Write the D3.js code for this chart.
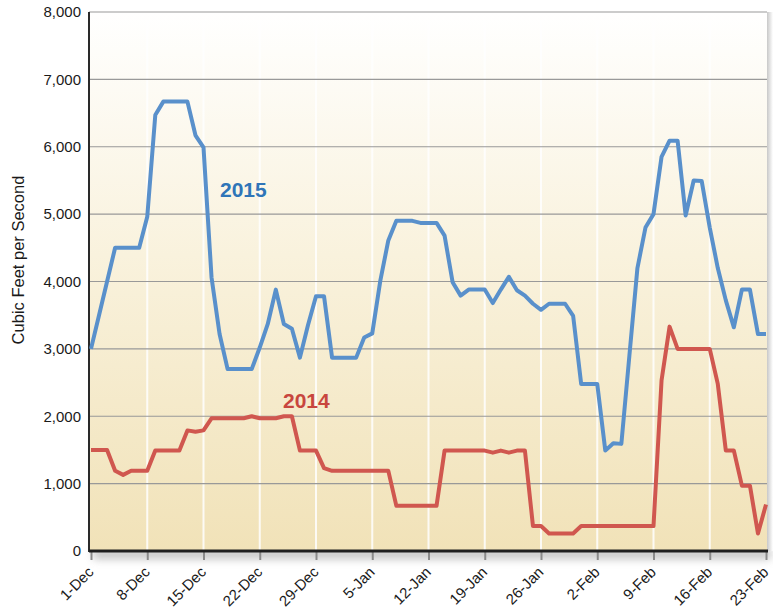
<!DOCTYPE html>
<html>
<head>
<meta charset="utf-8">
<script src="https://cdn.jsdelivr.net/npm/d3@7"></script>
<style>
    body { margin: 0; background: #fff; }
    svg { display: block; font-family: "Liberation Sans", Arial, sans-serif; }
</style>
</head>
<body>
<svg id="chart" width="773" height="608"></svg>
<script>
// daily flow, 1-Dec (day 0) to 23-Feb (day 84)
const flow2015 = [
    3000, 3500, 4000, 4500, 4500, 4500, 4500, 4960, 6470, 6670,
    6670, 6670, 6670, 6170, 5990, 4060, 3220, 2700, 2700, 2700,
    2700, 3020, 3370, 3880, 3370, 3300, 2870, 3350, 3780, 3780,
    2870, 2870, 2870, 2870, 3170, 3230, 4010, 4610, 4900, 4900,
    4900, 4870, 4870, 4870, 4680, 3990, 3790, 3880, 3880, 3880,
    3680, 3880, 4070, 3870, 3790, 3670, 3580, 3670, 3670, 3670,
    3490, 2480, 2480, 2480, 1490, 1600, 1590, 2900, 4200, 4800,
    5000, 5850, 6090, 6090, 4980, 5500, 5490, 4800, 4200, 3720,
    3320, 3880, 3880, 3220, 3220
];
const flow2014 = [
    1500, 1500, 1500, 1190, 1130, 1190, 1190, 1190, 1490, 1490,
    1490, 1490, 1790, 1770, 1790, 1970, 1970, 1970, 1970, 1970,
    2000, 1970, 1970, 1970, 2000, 2000, 1490, 1490, 1490, 1230,
    1190, 1190, 1190, 1190, 1190, 1190, 1190, 1190, 670, 670,
    670, 670, 670, 670, 1490, 1490, 1490, 1490, 1490, 1490,
    1460, 1490, 1460, 1490, 1490, 370, 370, 260, 260, 260,
    260, 370, 370, 370, 370, 370, 370, 370, 370, 370,
    370, 2530, 3330, 3000, 3000, 3000, 3000, 3000, 2480, 1490,
    1490, 970, 970, 260, 690
];
const tickDays = [0, 7, 14, 21, 28, 35, 42, 49, 56, 63, 70, 77, 84];
const tickLabels = ["1-Dec", "8-Dec", "15-Dec", "22-Dec", "29-Dec", "5-Jan", "12-Jan",
    "19-Jan", "26-Jan", "2-Feb", "9-Feb", "16-Feb", "23-Feb"];
const yTicks = [0, 1000, 2000, 3000, 4000, 5000, 6000, 7000, 8000];

const svg = d3.select("#chart");
const plotLeft = 89, plotRight = 767, plotTop = 12, plotBottom = 551;

const x = d3.scaleLinear().domain([0, 84]).range([91, 766]);
const y = d3.scaleLinear().domain([0, 8000]).range([plotBottom, plotTop]);

// gradients + shadow
const defs = svg.append("defs");
const bg = defs.append("linearGradient").attr("id", "bg")
    .attr("x1", 0).attr("y1", 0).attr("x2", 0).attr("y2", 1);
bg.append("stop").attr("offset", "0%").attr("stop-color", "#ffffff");
bg.append("stop").attr("offset", "45%").attr("stop-color", "#f9f2dd");
bg.append("stop").attr("offset", "100%").attr("stop-color", "#f1e2b8");

const side = defs.append("linearGradient").attr("id", "side")
    .attr("x1", 0).attr("y1", 0).attr("x2", 1).attr("y2", 0);
side.append("stop").attr("offset", "0%").attr("stop-color", "#c8c8c8");
side.append("stop").attr("offset", "100%").attr("stop-color", "#ffffff");

const blur = defs.append("filter").attr("id", "blur")
    .attr("x", "-10%").attr("y", "-100%").attr("width", "120%").attr("height", "300%");
blur.append("feGaussianBlur").attr("stdDeviation", 4);

// shadows around the plot
svg.append("rect")
    .attr("x", plotLeft + 4).attr("y", plotBottom - 2)
    .attr("width", plotRight - plotLeft).attr("height", 10)
    .attr("fill", "#9a9a9a").attr("opacity", 0.6)
    .attr("filter", "url(#blur)");
svg.append("rect")
    .attr("x", plotRight).attr("y", plotTop)
    .attr("width", 6).attr("height", plotBottom - plotTop)
    .attr("fill", "url(#side)");

svg.append("rect")
    .attr("x", plotLeft).attr("y", plotTop)
    .attr("width", plotRight - plotLeft).attr("height", plotBottom - plotTop)
    .attr("fill", "url(#bg)");

// vertical white grid at each week
svg.append("g").selectAll("line")
    .data(tickDays.slice(1, -1))
    .join("line")
    .attr("x1", d => x(d)).attr("x2", d => x(d))
    .attr("y1", plotTop).attr("y2", plotBottom)
    .attr("stroke", "#ffffff").attr("stroke-width", 2).attr("opacity", 0.85);

// horizontal gray grid
svg.append("g").selectAll("line")
    .data(yTicks.slice(1))
    .join("line")
    .attr("x1", plotLeft).attr("x2", plotRight)
    .attr("y1", d => y(d)).attr("y2", d => y(d))
    .attr("stroke", "#999999").attr("stroke-width", 1.2);

// y axis
const yAxis = svg.append("g")
    .attr("transform", `translate(${plotLeft},0)`)
    .call(d3.axisLeft(y).tickValues(yTicks).tickFormat(d3.format(",")).tickSize(0).tickPadding(8));
yAxis.select(".domain").remove();
yAxis.selectAll("text")
    .attr("font-size", 15).attr("fill", "#1a1a1a")
    .attr("font-family", "Liberation Sans, Arial, sans-serif");

// x axis
const xAxis = svg.append("g")
    .attr("transform", `translate(0,${plotBottom})`)
    .call(d3.axisBottom(x).tickValues(tickDays).tickFormat((d, i) => tickLabels[i]).tickSize(9));
xAxis.select(".domain").remove();
xAxis.selectAll(".tick line").attr("stroke", "#8a8a8a").attr("stroke-width", 2);
xAxis.selectAll("text")
    .attr("font-size", 15).attr("fill", "#1a1a1a")
    .attr("font-family", "Liberation Sans, Arial, sans-serif")
    .attr("text-anchor", "end")
    .attr("x", 0).attr("y", 0).attr("dy", 0)
    .attr("transform", "translate(3,22) rotate(-45)");

// axis lines
svg.append("line")
    .attr("x1", plotLeft).attr("x2", plotLeft).attr("y1", plotTop).attr("y2", plotBottom + 1)
    .attr("stroke", "#2a2a2a").attr("stroke-width", 2);
svg.append("line")
    .attr("x1", plotLeft).attr("x2", plotRight + 1).attr("y1", plotBottom).attr("y2", plotBottom)
    .attr("stroke", "#1e1e1e").attr("stroke-width", 3);

// y title
svg.append("text")
    .attr("transform", "translate(24,260) rotate(-90)")
    .attr("text-anchor", "middle")
    .attr("font-size", 16.5).attr("fill", "#1a1a1a")
    .text("Cubic Feet per Second");

// lines
const line = d3.line().x((d, i) => x(i)).y(d => y(d));

svg.append("path").datum(flow2014)
    .attr("d", line)
    .attr("fill", "none").attr("stroke", "#d0574f").attr("stroke-width", 4)
    .attr("stroke-linejoin", "round");
svg.append("path").datum(flow2015)
    .attr("d", line)
    .attr("fill", "none").attr("stroke", "#5990cb").attr("stroke-width", 4)
    .attr("stroke-linejoin", "round");

// series labels
svg.append("text")
    .attr("x", 220).attr("y", 197)
    .attr("font-size", 21).attr("font-weight", "bold").attr("fill", "#2f75b8")
    .text("2015");
svg.append("text")
    .attr("x", 283).attr("y", 408)
    .attr("font-size", 21).attr("font-weight", "bold").attr("fill", "#c8463e")
    .text("2014");
</script>
</body>
</html>
